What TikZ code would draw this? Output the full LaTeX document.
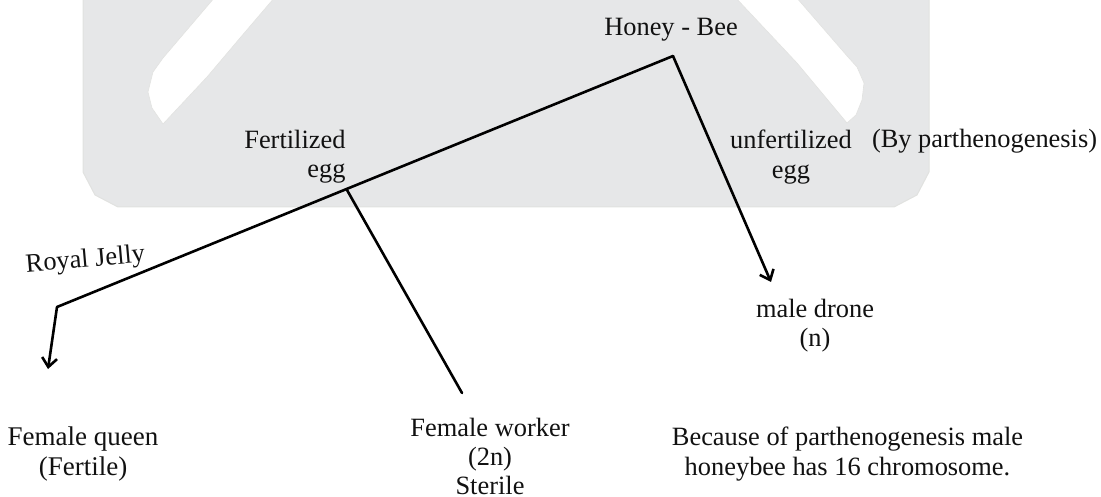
\documentclass[tikz,border=0pt]{standalone}
\usepackage{fontspec}
\setmainfont{Liberation Serif}
\usetikzlibrary{arrows.meta}
\definecolor{panel}{HTML}{E6E7E8}
\definecolor{panelline}{HTML}{E1E2E0}
\definecolor{ink}{HTML}{111111}
\tikzset{
  x=1pt,y=-1pt,
  label text/.style={inner sep=0pt,outer sep=0pt,align=center,text=ink,font=\fontsize{26.4}{29.2}\selectfont},
  branch/.style={draw=black,line width=2.6pt,line cap=round,line join=miter},
  tipped/.style={branch,-{Straight Barb[length=9pt,width=15pt,line width=2.6pt]}},
  panel shape/.style={fill=panel,draw=panelline,line width=1pt},
  slit/.style={fill=white,draw=panelline,line width=.6pt}
}
\begin{document}
\begin{tikzpicture}
\useasboundingbox (0,0) rectangle (1101,497);
% background panel
\path[panel shape] (83,-3) -- (83,172) -- (95,195) -- (118,207) -- (894,207) -- (917,195) -- (929,172) -- (929,-3) -- cycle;
\path[slit] (215,-3) -- (163,58) -- (153,72) -- (148,92) -- (152,108) -- (163,124) -- (207,77) -- (240,38) -- (275,-3) -- cycle;
\path[slit] (735,-3) -- (797,63) -- (847,123) -- (856,115) -- (862,100) -- (864,83) -- (857,67) -- (848,57) -- (796,-3) -- cycle;
% labels
\node[label text,anchor=base] (honey) at (671,36) {Honey - Bee};
\node[label text,anchor=east] (fert) at (345.5,157) {\hfill Fertilized\\\hfill egg};
\node[label text,anchor=center] (unfert) at (791,157) {unfertilized\\egg};
\node[label text,anchor=base west] (parth) at (872,148) {(By parthenogenesis)};
\node[label text,anchor=base,rotate=5] (royal) at (86,267) {Royal Jelly};
\node[label text] (drone) at (815,326) {male drone\\(n)};
\node[label text,font=\fontsize{27}{29.2}\selectfont] (queen) at (83,454) {Female queen\\(Fertile)};
\node[label text] (worker) at (490,456.5) {Female worker\\(2n)\\Sterile};
\node[label text] (because) at (847.5,454) {Because of parthenogenesis male\\honeybee has 16 chromosome.};
% connector junctions
\coordinate (apex) at (673,56);
\coordinate (jelly) at (57,307);
\coordinate (split) at (347,190);
\coordinate (queenEnd) at (48,369);
\coordinate (workerEnd) at (462,393);
\coordinate (droneEnd) at (771,282);
% connectors
\draw[branch] (jelly) -- (apex);
\draw[tipped] (jelly) -- (queenEnd);
\draw[branch] (split) -- (workerEnd);
\draw[tipped] (apex) -- (droneEnd);
\end{tikzpicture}
\end{document}
